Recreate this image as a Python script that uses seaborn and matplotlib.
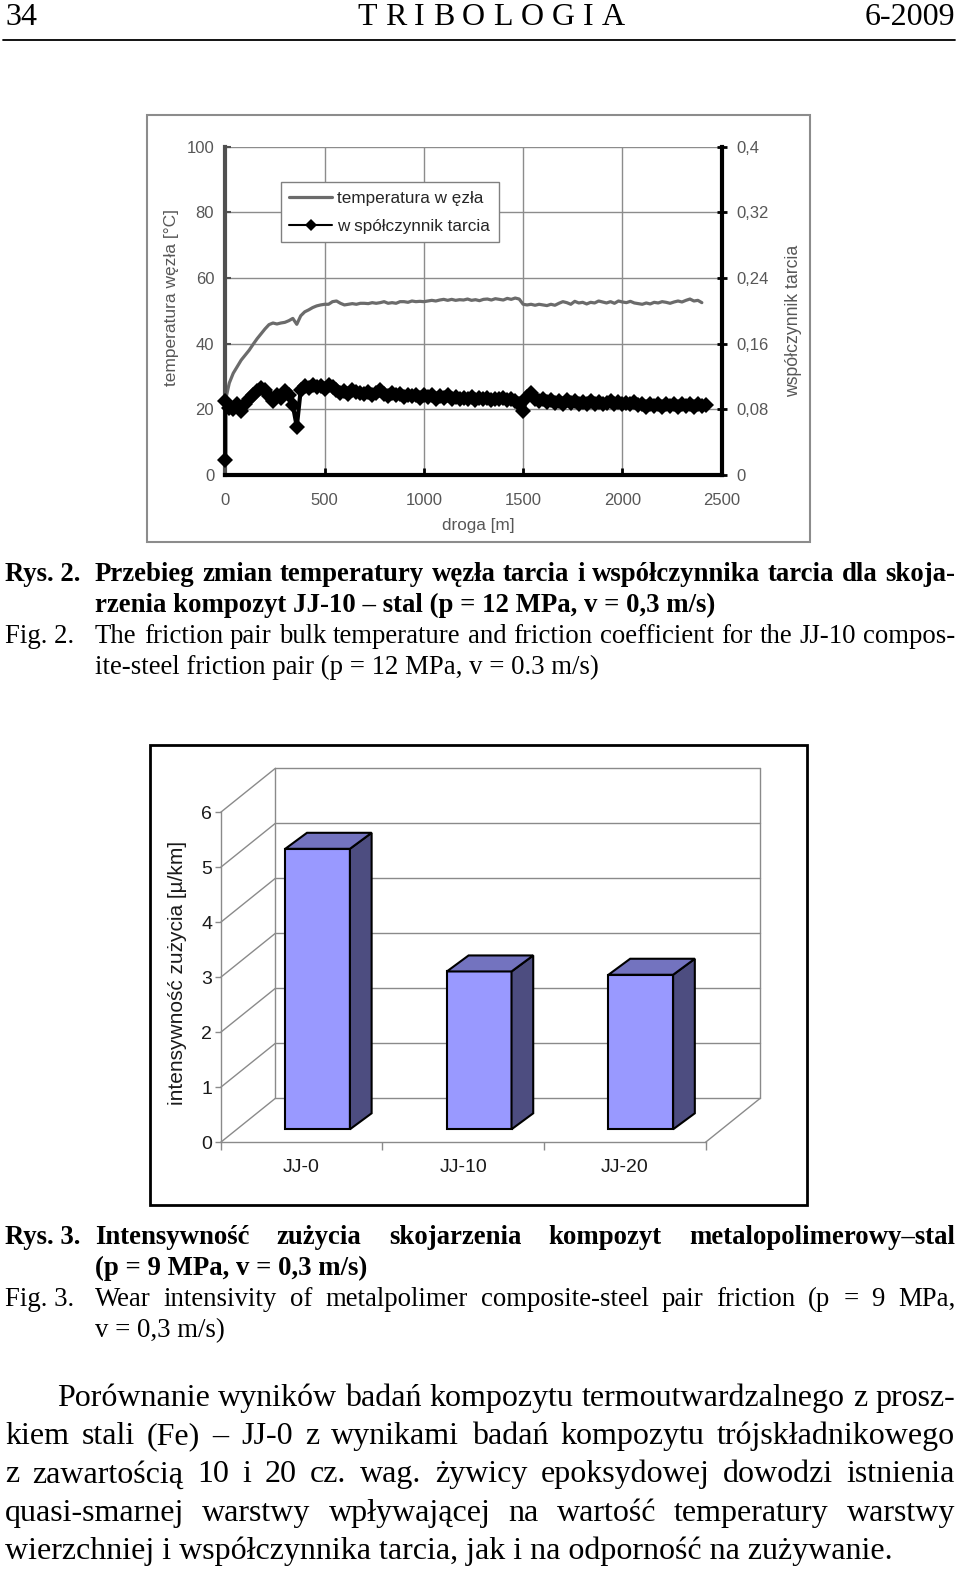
import numpy as np
import matplotlib
matplotlib.use("Agg")
import matplotlib.pyplot as plt
import seaborn as sns
from matplotlib.patches import Rectangle, Polygon
from matplotlib.lines import Line2D

# ---- data: Rys. 2 (sampled every 20 m along the sliding distance) ----
temp_values = [
    22.5, 28, 31, 33, 35, 36.5, 38, 39.8, 41.5, 43, 44.5, 45.8, 46.3, 46, 46.3, 46.5,
    47, 47.7, 45.9, 48.5, 49.7, 50.3, 51, 51.5, 51.8, 52, 52, 52.8, 53, 52.3, 51.8,
    52, 52.2, 52, 52.3, 52.3, 52.2, 52.5, 52.3, 52.5, 52.8, 52.3, 52.5, 52.3, 52.8,
    52.8, 52.6, 53, 52.8, 52.9, 52.8, 53, 53.2, 53, 53.3, 53.5, 53.2, 53.5, 53.2,
    53.4, 53.3, 53.6, 53.2, 53.4, 53.1, 53.5, 53.6, 53.3, 53.7, 53.5, 53.3, 53.8,
    53.5, 53.9, 53.6, 52, 51.8, 52, 51.7, 52, 51.8, 51.6, 52, 51.7, 52.3, 52.8,
    52.5, 52, 52.9, 52.4, 52.6, 52.1, 52.6, 52.4, 53, 52.7, 52.4, 52.8, 52.3, 53,
    52.7, 52.5, 52.9, 52.4, 52.2, 52, 52.4, 52.1, 52.6, 52.4, 52.8, 52.6, 52.3,
    52.7, 53, 52.7, 53.2, 53.6, 53, 53.2, 52.5,
]
friction_first = 0.018
friction_values = [
    0.090, 0.082, 0.080, 0.086, 0.078, 0.086, 0.092, 0.097, 0.102, 0.106, 0.104,
    0.096, 0.090, 0.098, 0.094, 0.102, 0.098, 0.085, 0.059, 0.104, 0.108, 0.106,
    0.110, 0.107, 0.109, 0.105, 0.110, 0.107, 0.104, 0.100, 0.102, 0.099, 0.103,
    0.101, 0.100, 0.099, 0.101, 0.098, 0.100, 0.104, 0.099, 0.096, 0.100, 0.097,
    0.099, 0.095, 0.098, 0.096, 0.097, 0.094, 0.098, 0.095, 0.097, 0.093, 0.096,
    0.094, 0.097, 0.093, 0.095, 0.092, 0.094, 0.092, 0.095, 0.091, 0.094, 0.092,
    0.094, 0.091, 0.093, 0.092, 0.094, 0.091, 0.093, 0.090, 0.086, 0.078, 0.095,
    0.100, 0.093, 0.090, 0.092, 0.089, 0.091, 0.088, 0.090, 0.087, 0.091, 0.088,
    0.090, 0.087, 0.089, 0.086, 0.090, 0.087, 0.089, 0.086, 0.088, 0.090, 0.087,
    0.089, 0.086, 0.088, 0.086, 0.089, 0.085, 0.087, 0.083, 0.086, 0.084, 0.087,
    0.083, 0.086, 0.084, 0.087, 0.083, 0.086, 0.084, 0.087, 0.083, 0.086, 0.084,
    0.085,
]
STEP = 20
temp_dist = np.arange(len(temp_values)) * STEP
friction_dist = np.r_[0, np.arange(len(friction_values)) * STEP]
friction_all = [friction_first] + friction_values

temp_ticks = [0, 20, 40, 60, 80, 100]
coef_ticks = [0, 0.08, 0.16, 0.24, 0.32, 0.4]
coef_ticklabels = ["0", "0,08", "0,16", "0,24", "0,32", "0,4"]
dist_ticks = [0, 500, 1000, 1500, 2000, 2500]

# ---- data: Rys. 3 ----
wear_labels = ["JJ-0", "JJ-10", "JJ-20"]
wear_values = [5.1, 2.87, 2.81]

# ---- page text ----
caption2_pl = ["Przebieg zmian temperatury węzła tarcia i współczynnika tarcia dla skoja-",
               "rzenia kompozyt JJ-10 – stal (p = 12 MPa, v = 0,3 m/s)"]
caption2_en = ["The friction pair bulk temperature and friction coefficient for the JJ-10 compos-",
               "ite-steel friction pair (p = 12 MPa, v = 0.3 m/s)"]
caption3_pl = ["Intensywność zużycia skojarzenia kompozyt metalopolimerowy–stal",
               "(p = 9 MPa, v = 0,3 m/s)"]
caption3_en = ["Wear intensivity of metalpolimer composite-steel pair friction (p = 9 MPa,",
               "v = 0,3 m/s)"]
paragraph = ["Porównanie wyników badań kompozytu termoutwardzalnego z prosz-",
             "kiem stali (Fe) – JJ-0 z wynikami badań kompozytu trójskładnikowego",
             "z zawartością 10 i 20 cz. wag. żywicy epoksydowej dowodzi istnienia",
             "quasi-smarnej warstwy wpływającej na wartość temperatury warstwy",
             "wierzchniej i współczynnika tarcia, jak i na odporność na zużywanie."]

W, H = 960, 1569
SERIF = "Liberation Serif"
SANS = "Liberation Sans"

sns.set_theme(style="white")
plt.rcParams["font.family"] = [SANS, "DejaVu Sans"]


def fx(px):
    return px / W


def fy(py):
    return 1 - py / H


fig = plt.figure(figsize=(W / 100, H / 100), dpi=100)
justify_jobs = []


def page_text(x, y, s, size, weight="normal", ha="left"):
    return fig.text(fx(x), fy(y), s, fontsize=size, fontweight=weight, family=SERIF,
                    ha=ha, va="baseline", color="black")


def justified(s, x0, x1, y, size, weight="normal", sep=" "):
    words = s.split(sep)
    objs = [page_text(x0, y, w, size, weight) for w in words]
    justify_jobs.append((objs, x0, x1))


# ---- header ----
page_text(5, 25, "34", 23)
justified("T R I B O L O G I A", 357, 625, 25, 23)
page_text(955, 25, "6-2009", 23, ha="right")
fig.add_artist(Line2D([fx(3), fx(955)], [fy(40), fy(40)], color="black", lw=1.3))

# ---- chart 1 ----
fig.add_artist(Rectangle((fx(147), fy(542)), (810 - 147) / W, (542 - 115) / H,
                         transform=fig.transFigure, fill=False, edgecolor="#8c8c8c", lw=1.5))
ax1 = fig.add_axes([fx(225.3), fy(475), (721.7 - 225.3) / W, (475 - 146.7) / H])
ax1r = ax1.twinx()

sns.lineplot(x=temp_dist, y=temp_values, color="#6b6b6b", linewidth=2.3,
             estimator=None, sort=False, ax=ax1, label="temperatura w ęzła")
sns.lineplot(x=friction_dist, y=friction_all, color="black", linewidth=3,
             marker="D", markersize=8.5, markeredgewidth=0, estimator=None, sort=False,
             ax=ax1r, label="w spółczynnik tarcia")
for ln in ax1r.get_lines():
    ln.set_clip_on(False)

ax1.set_xlim(0, 2500)
ax1.set_ylim(0, 100)
ax1r.set_ylim(0, 0.4)
ax1.set_xticks(dist_ticks)
ax1.set_yticks(temp_ticks)
ax1r.set_yticks(coef_ticks, coef_ticklabels)
ax1.grid(True, color="#8c8c8c", linewidth=1)
ax1.set_facecolor("white")
ax1r.patch.set_visible(False)

ax1.spines["top"].set_visible(False)
ax1.spines["right"].set_visible(False)
ax1.spines["left"].set_color("#505050")
ax1.spines["left"].set_linewidth(3)
ax1.spines["bottom"].set_color("black")
ax1.spines["bottom"].set_linewidth(3)
for side in ["top", "left", "bottom"]:
    ax1r.spines[side].set_visible(False)
ax1r.spines["right"].set_color("black")
ax1r.spines["right"].set_linewidth(3)

label_grey = "#575757"
ax1.tick_params(axis="y", left=True, direction="in", length=4, width=1.5, color="#505050",
                labelcolor=label_grey, labelsize=12, pad=8)
ax1.tick_params(axis="x", bottom=True, direction="in", length=5, width=2, color="black",
                labelcolor=label_grey, labelsize=12, pad=13)
ax1r.tick_params(axis="y", right=True, direction="inout", length=7, width=2, color="black",
                 labelcolor=label_grey, labelsize=12, pad=7)

ax1.set_xlabel("droga [m]", fontsize=12.3, color=label_grey)
ax1.xaxis.set_label_coords(0.5094, -0.131)
ax1.set_ylabel("temperatura węzła [°C]", fontsize=12.5, color=label_grey)
ax1.yaxis.set_label_coords(-0.094, 0.541)
ax1r.set_ylabel("współczynnik tarcia", fontsize=12.7, color=label_grey)
ax1r.yaxis.set_label_coords(1.1275, 0.47)

if ax1.get_legend() is not None:
    ax1.get_legend().remove()
if ax1r.get_legend() is not None:
    ax1r.get_legend().remove()
handles = [ax1.get_lines()[0], ax1r.get_lines()[0]]
leg = ax1r.legend(handles=handles, labels=[h.get_label() for h in handles],
                  loc="upper left", bbox_to_anchor=(0.112, 0.892), borderaxespad=0,
                  fontsize=12.3, frameon=True, fancybox=False, framealpha=1,
                  edgecolor="#808080", handlelength=2.5, handletextpad=0.3,
                  labelspacing=0.75, borderpad=0.5, markerscale=0.75)
leg.get_frame().set_linewidth(1)
leg.get_lines()[1].set_linewidth(1.5)

# ---- chart 3 (pseudo 3D bars) ----
fig.add_artist(Rectangle((fx(150), fy(1205)), 657 / W, 460 / H,
                         transform=fig.transFigure, fill=False, edgecolor="black", lw=2))
CAT_PX, UNIT_PX = 161.6, 55.0
X0_PX, Y0_PX = 317.6, 1129.3          # pixel of category 0 / value 0 in the bar plane
ax2 = fig.add_axes([fx(150), fy(1205), 657 / W, 460 / H])
ax2.patch.set_visible(False)

# offsets (data units) of front floor, full depth, bar depth
xf, yf = -16.1 / CAT_PX, -13.0 / UNIT_PX
DX, DY = 54.7 / CAT_PX, 44.0 / UNIT_PX
BDX, BDY = 21.7 / CAT_PX, 16.0 / UNIT_PX
n = len(wear_labels)
wall = dict(color="#8a8a8a", lw=1, zorder=0.5, clip_on=False)

x_left, x_right = -0.5 + xf, n - 0.5 + xf
for k in range(7):
    ax2.plot([x_left, x_left + DX], [k + yf, k + yf + DY], **wall)
    ax2.plot([x_left + DX, x_right + DX], [k + yf + DY, k + yf + DY], **wall)
ax2.plot([x_left + DX, x_left + DX], [yf + DY, 6 + yf + DY], **wall)
ax2.plot([x_right + DX, x_right + DX], [yf + DY, 6 + yf + DY], **wall)
ax2.plot([x_right, x_right + DX], [yf, yf + DY], **wall)

sns.barplot(x=wear_labels, y=wear_values, width=0.4, color="#9999FF", saturation=1,
            edgecolor="black", linewidth=1.5, ax=ax2)
for bar in list(ax2.patches):
    bx0, bw, bh = bar.get_x(), bar.get_width(), bar.get_height()
    bx1 = bx0 + bw
    side = Polygon([(bx1, 0), (bx1 + BDX, BDY), (bx1 + BDX, bh + BDY), (bx1, bh)],
                   closed=True, facecolor="#4D4D80", edgecolor="black", lw=1.5, zorder=1)
    top = Polygon([(bx0, bh), (bx1, bh), (bx1 + BDX, bh + BDY), (bx0 + BDX, bh + BDY)],
                  closed=True, facecolor="#7373BF", edgecolor="black", lw=1.5, zorder=1)
    ax2.add_patch(side)
    ax2.add_patch(top)

ax2.set_xlim((150 - X0_PX) / CAT_PX, (807 - X0_PX) / CAT_PX)
ax2.set_ylim((Y0_PX - 1205) / UNIT_PX, (Y0_PX - 745) / UNIT_PX)

for side in ["top", "right"]:
    ax2.spines[side].set_visible(False)
ax2.spines["left"].set_position(("data", x_left))
ax2.spines["left"].set_bounds(yf, 6 + yf)
ax2.spines["bottom"].set_position(("data", yf))
ax2.spines["bottom"].set_bounds(x_left, x_right)
for side in ["left", "bottom"]:
    ax2.spines[side].set_color("#8a8a8a")
    ax2.spines[side].set_linewidth(1)

ax2.set_yticks(np.arange(7) + yf, [str(k) for k in range(7)])
ax2.set_xticks(np.arange(n) + xf, wear_labels)
ax2.set_xticks(np.arange(n + 1) - 0.5 + xf, minor=True)
ax2.tick_params(axis="y", left=True, direction="out", length=4, width=1, color="#8a8a8a",
                labelcolor="#1a1a1a", labelsize=14, pad=2)
ax2.tick_params(axis="x", which="major", bottom=True, length=0, labelcolor="#1a1a1a",
                labelsize=14, pad=12)
ax2.tick_params(axis="x", which="minor", bottom=True, direction="out", length=6, width=1,
                color="#8a8a8a")
ax2.set_xlabel("")
ax2.set_ylabel("intensywność zużycia [µ/km]", fontsize=15, color="#1a1a1a")
ax2.yaxis.set_label_coords(0.0559, 0.504)

# ---- captions ----
CAP = 19.3
page_text(5, 581, "Rys. 2.", CAP, "bold")
justified(caption2_pl[0], 95, 955, 581, CAP, "bold")
page_text(95, 612, caption2_pl[1], CAP, "bold")
page_text(5, 643, "Fig. 2.", CAP)
justified(caption2_en[0], 95, 955, 643, CAP)
page_text(95, 674, caption2_en[1], CAP)

page_text(5, 1244, "Rys. 3.", CAP, "bold")
justified(caption3_pl[0], 95, 955, 1244, CAP, "bold")
page_text(95, 1275, caption3_pl[1], CAP, "bold")
page_text(5, 1306, "Fig. 3.", CAP)
justified(caption3_en[0], 95, 955, 1306, CAP)
page_text(95, 1337, caption3_en[1], CAP)

PARA = 23
para_y = [1405.7, 1444, 1482.3, 1520.6, 1559]
justified(paragraph[0], 57, 955, para_y[0], PARA)
for line, y in zip(paragraph[1:4], para_y[1:4]):
    justified(line, 5, 955, y, PARA)
page_text(5, para_y[4], paragraph[4], PARA)

# ---- lay out justified lines ----
renderer = fig.canvas.get_renderer()
for objs, x0, x1 in justify_jobs:
    widths = [o.get_window_extent(renderer=renderer).width for o in objs]
    gap = (x1 - x0 - sum(widths)) / max(len(objs) - 1, 1)
    x = x0
    for o, w in zip(objs, widths):
        o.set_x(fx(x))
        x += w + gap

fig.savefig("out.png", dpi=100, facecolor="white")
